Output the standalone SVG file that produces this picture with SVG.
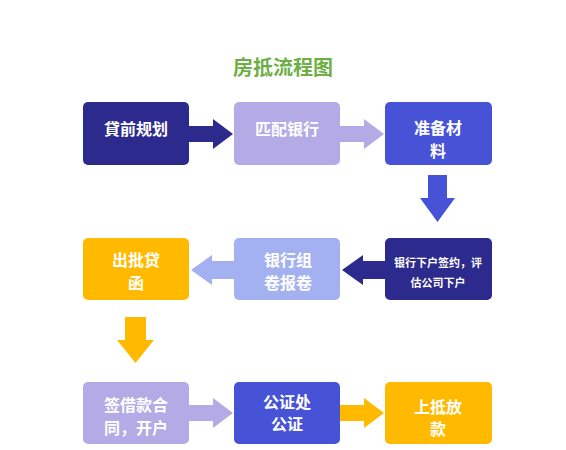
<svg xmlns="http://www.w3.org/2000/svg" width="566" height="450" viewBox="0 0 566 450">
<style>
.t{font-family:"Noto Sans CJK SC","Noto Sans",sans-serif;font-weight:bold;fill:#fff;text-anchor:middle;dominant-baseline:central}
.b{font-size:16px}
.s{font-size:11px}
.navy{fill:#2D2A8E}
.lav{fill:#B4AAE6}
.blue{fill:#4753D6}
.yel{fill:#FFBA00}
.peri{fill:#A4B1F1}
</style>
<rect width="566" height="450" fill="#fff"/>
<text x="283" y="66" style="font-family:'Noto Sans CJK SC','Noto Sans',sans-serif;font-weight:bold;font-size:20px;fill:#6DAE45;text-anchor:middle;dominant-baseline:central">房抵流程图</text>
<g id="connectors">
<polygon class="navy" points="189,126 213,126 213,119 233,134 213,149 213,142 189,142"/>
<polygon class="lav" points="340,126 364,126 364,119 384,134 364,149 364,142 340,142"/>
<polygon class="blue" points="428,175 447,175 447,198 455,198 437.5,222 420,198 428,198"/>
<polygon class="navy" points="385,261 363,261 363,255 342,270 363,285 363,279 385,279"/>
<polygon class="peri" points="234,261 212,261 212,255 191,270 212,285 212,279 234,279"/>
<polygon class="yel" points="125,317 146,317 146,340 154,340 135.5,363 117,340 125,340"/>
<polygon class="lav" points="189,405 213,405 213,398 233,413 213,428 213,421 189,421"/>
<polygon class="yel" points="340,405 364,405 364,398 384,413 364,428 364,421 340,421"/>
</g>
<g id="n1"><rect class="navy" x="83" y="102" width="106" height="63" rx="5"/><text class="t b" x="136" y="128">貸前规划</text></g>
<g id="n2"><rect class="lav" x="234" y="102" width="106" height="63" rx="5"/><text class="t b" x="287" y="128">匹配银行</text></g>
<g id="n3"><rect class="blue" x="385" y="102" width="107" height="63" rx="5"/><text class="t b" x="438" y="127">准备材</text><text class="t b" x="438" y="150">料</text></g>
<g id="n4"><rect class="navy" x="385" y="238" width="107" height="62" rx="5"/><text class="t s" x="438" y="262">银行下户签约，评</text><text class="t s" x="438" y="282">估公司下户</text></g>
<g id="n5"><rect class="peri" x="234" y="238" width="106" height="62" rx="5"/><text class="t b" x="288" y="259">银行组</text><text class="t b" x="288" y="282">卷报卷</text></g>
<g id="n6"><rect class="yel" x="83" y="238" width="106" height="62" rx="5"/><text class="t b" x="136" y="259">出批贷</text><text class="t b" x="136" y="282">函</text></g>
<g id="n7"><rect class="lav" x="83" y="382" width="106" height="62" rx="5"/><text class="t b" x="136" y="404">签借款合</text><text class="t b" x="136" y="427">同，开户</text></g>
<g id="n8"><rect class="blue" x="234" y="382" width="106" height="62" rx="5"/><text class="t b" x="287" y="401">公证处</text><text class="t b" x="287" y="423">公证</text></g>
<g id="n9"><rect class="yel" x="385" y="382" width="107" height="62" rx="5"/><text class="t b" x="438" y="406">上抵放</text><text class="t b" x="438" y="428">款</text></g>
</svg>
